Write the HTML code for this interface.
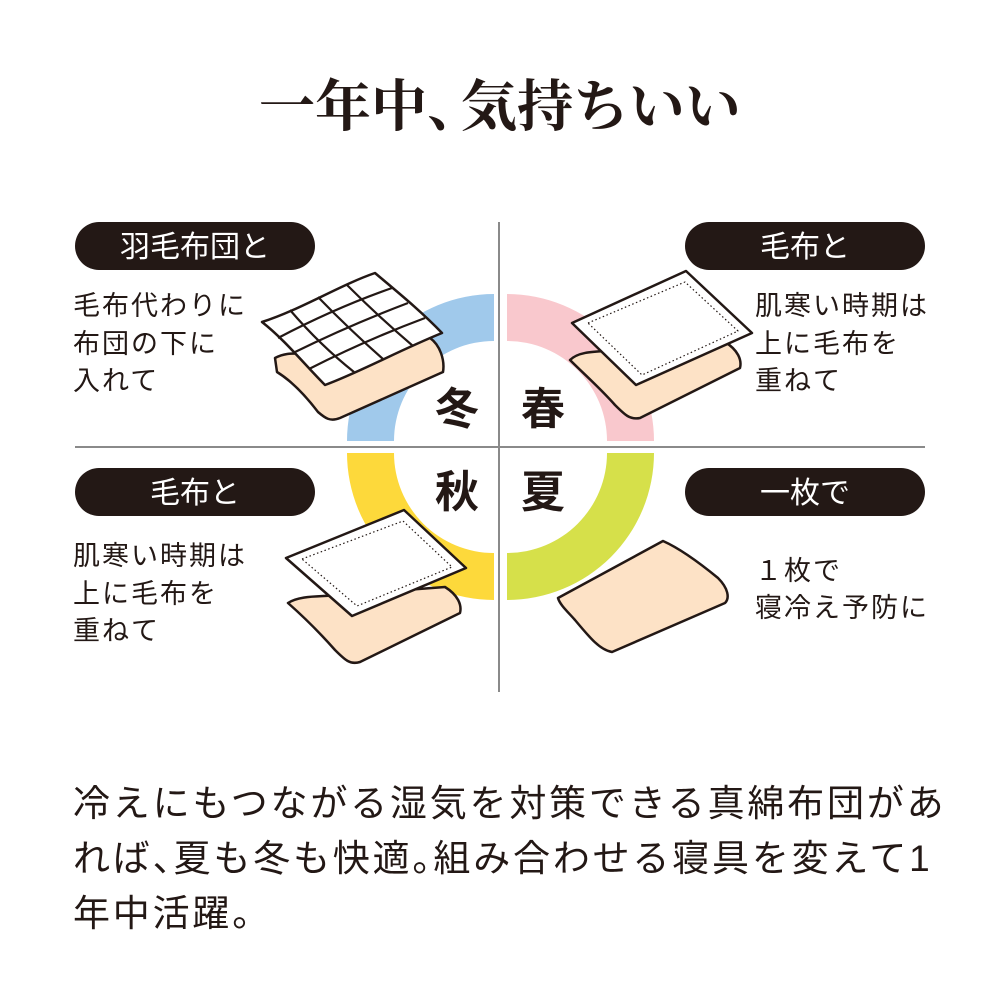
<!DOCTYPE html>
<html><head><meta charset="utf-8"><style>
body{margin:0;background:#fff;}
svg{display:block}
text{font-family:"Liberation Sans","Noto Sans CJK JP",sans-serif;fill:#231815}
</style></head><body>
<svg width="1000" height="1000" viewBox="0 0 1000 1000">
<text x="500" y="126" text-anchor="middle" font-size="56" style="font-family:'Liberation Serif','Noto Serif CJK SC',serif" font-weight="bold">一年中<tspan letter-spacing="-22">、</tspan>気持ちいい</text>
<!-- ring -->
<path d="M347,441 A147,147 0 0 1 494,294 L494,341 A100,100 0 0 0 394,441 Z" fill="#a0c9eb"/>
<path d="M507,294 A147,147 0 0 1 654,441 L607,441 A100,100 0 0 0 507,341 Z" fill="#f9c8cd"/>
<path d="M347,453 A147,147 0 0 0 494,600 L494,553 A100,100 0 0 1 394,453 Z" fill="#fdd93b"/>
<path d="M507,600 A147,147 0 0 0 654,453 L607,453 A100,100 0 0 1 507,553 Z" fill="#d6e04a"/>
<line x1="499" y1="222" x2="499" y2="692" stroke="#8a8a8a" stroke-width="2"/>
<line x1="75" y1="447" x2="925" y2="447" stroke="#8a8a8a" stroke-width="2"/>
<g font-size="44" text-anchor="middle" font-weight="bold">
<text x="457" y="424">冬</text><text x="543" y="424">春</text>
<text x="457" y="507">秋</text><text x="543" y="507">夏</text>
</g>
<!-- pills -->
<g fill="#231815">
<rect x="75" y="222" width="240" height="48" rx="24"/>
<rect x="685" y="222" width="240" height="48" rx="24"/>
<rect x="75" y="468" width="240" height="48" rx="24"/>
<rect x="685" y="468" width="240" height="48" rx="24"/>
</g>
<g font-size="30" text-anchor="middle">
<text x="195" y="257" style="fill:#fff">羽毛布団と</text>
<text x="805" y="257" style="fill:#fff">毛布と</text>
<text x="195" y="503" style="fill:#fff">毛布と</text>
<text x="805" y="503" style="fill:#fff">一枚で</text>
</g>
<g font-size="27" letter-spacing="2">
<text x="73" y="315">毛布代わりに</text><text x="73" y="353">布団の下に</text><text x="73" y="390">入れて</text>
<text x="755" y="315">肌寒い時期は</text><text x="755" y="353">上に毛布を</text><text x="755" y="390">重ねて</text>
<text x="73" y="565">肌寒い時期は</text><text x="73" y="603">上に毛布を</text><text x="73" y="640">重ねて</text>
<text x="755" y="580">１枚で</text><text x="755" y="617">寝冷え予防に</text>
</g>
<g stroke="#231815" stroke-width="2.5" stroke-linejoin="round">
<!-- winter -->
<path d="M275,358 C290,350 300,356 320,352 L430,338 C440,345 445,360 443,372 L340,418 C330,422 325,418 318,412 C305,395 290,380 277,372 Z" fill="#fde2c6"/>
<path d="M262,322 C300,310 340,285 375,273 C395,290 420,310 442,333 C400,350 360,372 325,385 C305,365 285,340 262,322 Z" fill="#fff"/>
<path d="M278,338 Q335,308 392,288 M293,353 Q350,325 408,303 M309,369 Q366,340 425,318 M290,310 Q320,345 354,372 M318,297 Q350,330 383,359 M347,285 Q380,318 413,346" fill="none" stroke-width="2.2"/>
<!-- spring -->
<path d="M570,360 C580,350 600,352 620,350 L725,342 C738,350 742,360 740,368 L640,418 C630,420 625,415 615,405 C600,388 585,375 570,360 Z" fill="#fde2c6"/>
<path d="M572,323 L686,271 L752,333 L636,385 Z" fill="#fff"/>
<path d="M588,323 L685,282 L738,331 L642,375 Z" fill="none" stroke-width="1.2" stroke-dasharray="1.5,2.5"/>
<!-- autumn -->
<path d="M288,603 C300,595 320,597 340,595 L445,587 C458,595 462,605 460,613 L360,662 C350,665 345,660 335,650 C320,633 305,618 288,603 Z" fill="#fde2c6"/>
<path d="M286,558 L404,510 L466,568 L352,616 Z" fill="#fff"/>
<path d="M302,559 L403,521 L452,567 L357,606 Z" fill="none" stroke-width="1.2" stroke-dasharray="1.5,2.5"/>
<!-- summer -->
<path d="M558,598 L663,541 C672,545 690,555 718,578 C728,588 730,598 725,603 L612,652 C600,650 590,638 575,620 C568,612 560,605 558,598 Z" fill="#fde2c6"/>
</g>
<g font-size="37" letter-spacing="2.8">
<text x="73" y="816">冷えにもつながる湿気を対策できる真綿布団があ</text>
<text x="73" y="871">れば<tspan letter-spacing="-16">、</tspan>夏も冬も快適<tspan letter-spacing="-16">。</tspan>組み合わせる寝具を変えて1</text>
<text x="73" y="926">年中活躍。</text>
</g>
</svg>
</body></html>
